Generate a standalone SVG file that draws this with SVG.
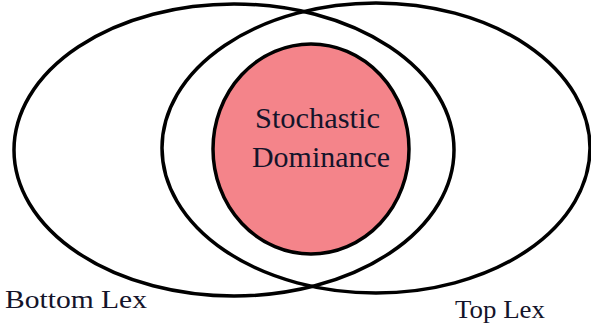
<svg xmlns="http://www.w3.org/2000/svg" width="591" height="329" viewBox="0 0 591 329">
<style>
.ring{fill:none;stroke:#000;stroke-width:3.5}
.core{fill:#F4848A;stroke:#000;stroke-width:3.5}
.lbl{font-family:"Liberation Serif","DejaVu Serif",serif;fill:#14142a}
</style>
<rect width="591" height="329" fill="#fff"/>
<g id="bottom-lex">
<ellipse class="ring" cx="234" cy="150" rx="220" ry="146"/>
<text class="lbl" x="5" y="308" font-size="26" textLength="142" lengthAdjust="spacingAndGlyphs">Bottom Lex</text>
</g>
<g id="top-lex">
<ellipse class="ring" cx="376" cy="148" rx="214" ry="145"/>
<text class="lbl" x="455" y="318" font-size="26" textLength="90" lengthAdjust="spacingAndGlyphs">Top Lex</text>
</g>
<g id="stochastic-dominance">
<ellipse class="core" cx="311" cy="149" rx="98" ry="105"/>
<text class="lbl" x="255" y="128" font-size="29" textLength="125" lengthAdjust="spacingAndGlyphs">Stochastic</text>
<text class="lbl" x="252" y="167" font-size="29" textLength="138" lengthAdjust="spacingAndGlyphs">Dominance</text>
</g>
<g id="connectors"/>
</svg>
